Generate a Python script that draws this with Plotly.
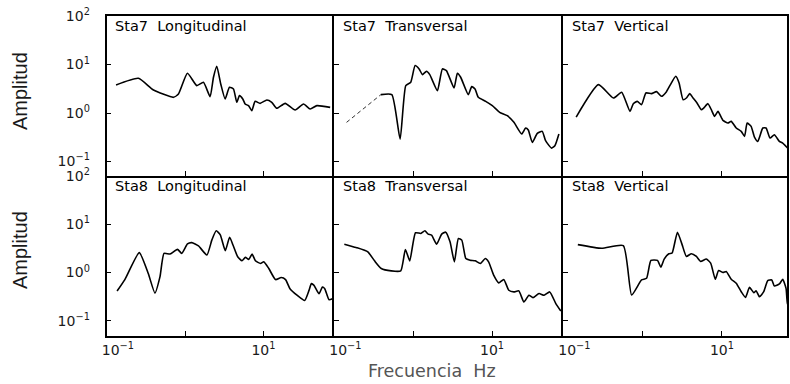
import numpy as np
import plotly.graph_objects as go

# Spectral amplitude curves, stored as log10(frequency in Hz) and log10(amplitude)
sta7_long_logf = [-0.881, -0.596, -0.404, -0.149, -0.085, 0.030, 0.149, 0.234, 0.319, 0.362, 0.404, 0.455,
                  0.511, 0.566, 0.617, 0.660, 0.694, 0.736, 0.766, 0.809, 0.851, 0.894, 0.957, 1.043,
                  1.106, 1.170, 1.277, 1.404, 1.511, 1.596, 1.681, 1.851]
sta7_long_loga = [0.579, 0.717, 0.476, 0.324, 0.393, 0.821, 0.566, 0.634, 0.338, 0.738, 0.966, 0.600,
                  0.290, 0.531, 0.497, 0.221, 0.359, 0.290, 0.186, 0.152, 0.048, 0.241, 0.200, 0.269,
                  0.221, 0.097, 0.200, 0.062, 0.186, 0.083, 0.152, 0.117]

sta7_trans_logf = [-0.844, -0.409, -0.270, -0.165, -0.093, -0.030, 0.025, 0.076, 0.118, 0.169, 0.211, 0.308,
                   0.371, 0.422, 0.519, 0.561, 0.603, 0.700, 0.743, 0.785, 0.827, 0.920, 1.004, 1.097,
                   1.194, 1.278, 1.376, 1.426, 1.460, 1.511, 1.574, 1.637, 1.679, 1.755, 1.797, 1.848]
sta7_trans_loga = [-0.193, 0.379, 0.379, -0.538, 0.566, 0.634, 0.979, 0.910, 0.793, 0.862, 0.793, 0.462,
                   0.910, 0.876, 0.517, 0.821, 0.738, 0.379, 0.545, 0.497, 0.324, 0.241, 0.152, 0.014,
                   -0.055, -0.193, -0.434, -0.310, -0.352, -0.607, -0.421, -0.379, -0.572, -0.724, -0.676, -0.434]

sta7_vert_logf = [-0.837, -0.556, -0.368, -0.264, -0.159, -0.117, -0.067, -0.013, 0.042, 0.113, 0.176, 0.238,
                  0.301, 0.351, 0.418, 0.460, 0.510, 0.552, 0.594, 0.636, 0.686, 0.741, 0.770, 0.824,
                  0.866, 0.908, 0.950, 1.013, 1.075, 1.117, 1.180, 1.243, 1.285, 1.318, 1.368, 1.410,
                  1.452, 1.515, 1.556, 1.607, 1.661, 1.724, 1.766, 1.841]
sta7_vert_loga = [-0.083, 0.586, 0.310, 0.428, 0.034, 0.193, 0.241, 0.172, 0.414, 0.400, 0.441, 0.345,
                  0.441, 0.586, 0.759, 0.621, 0.276, 0.310, 0.400, 0.310, 0.207, 0.069, 0.103, 0.193,
                  0.069, -0.069, 0.034, -0.152, -0.207, -0.172, -0.310, -0.379, -0.483, -0.207, -0.276, -0.497,
                  -0.586, -0.310, -0.310, -0.517, -0.448, -0.586, -0.621, -0.745]

sta8_long_logf = [-0.868, -0.769, -0.585, -0.470, -0.385, -0.321, -0.269, -0.192, -0.098, -0.043, 0.030, 0.085,
                  0.171, 0.278, 0.342, 0.397, 0.449, 0.513, 0.568, 0.611, 0.671, 0.726, 0.769, 0.812,
                  0.855, 0.897, 0.962, 1.004, 1.068, 1.154, 1.226, 1.282, 1.338, 1.432, 1.526, 1.581,
                  1.611, 1.645, 1.709, 1.752, 1.782, 1.838, 1.880]
sta8_long_loga = [-0.382, -0.146, 0.410, -0.021, -0.424, -0.090, 0.396, 0.382, 0.479, 0.396, 0.590, 0.618,
                  0.549, 0.361, 0.674, 0.861, 0.778, 0.451, 0.729, 0.569, 0.326, 0.243, 0.313, 0.271,
                  0.382, 0.243, 0.188, 0.222, 0.083, -0.146, -0.104, -0.146, -0.333, -0.472, -0.576, -0.368,
                  -0.229, -0.264, -0.438, -0.299, -0.333, -0.563, -0.542]

sta8_trans_logf = [-0.872, -0.723, -0.574, -0.489, -0.404, -0.277, -0.157, -0.098, -0.043, 0.030, 0.098, 0.149,
                   0.191, 0.234, 0.298, 0.362, 0.413, 0.468, 0.523, 0.574, 0.617, 0.668, 0.723, 0.787,
                   0.851, 0.915, 0.957, 1.021, 1.085, 1.149, 1.213, 1.277, 1.340, 1.404, 1.468, 1.519,
                   1.596, 1.660, 1.732, 1.809, 1.872]
sta8_trans_loga = [0.586, 0.517, 0.428, 0.241, 0.083, 0.034, 0.034, 0.476, 0.241, 0.821, 0.807, 0.862,
                   0.793, 0.772, 0.586, 0.793, 0.834, 0.634, 0.221, 0.703, 0.669, 0.290, 0.255, 0.241,
                   0.186, 0.290, 0.221, -0.055, -0.214, -0.145, -0.366, -0.400, -0.379, -0.607, -0.469, -0.517,
                   -0.434, -0.469, -0.400, -0.641, -0.793]

sta8_vert_logf = [-0.816, -0.515, -0.243, -0.138, -0.013, 0.050, 0.105, 0.188, 0.230, 0.272, 0.331, 0.372,
                  0.439, 0.498, 0.552, 0.615, 0.678, 0.732, 0.803, 0.858, 0.916, 0.958, 1.013, 1.054,
                  1.117, 1.180, 1.243, 1.297, 1.347, 1.402, 1.431, 1.473, 1.527, 1.577, 1.628, 1.661,
                  1.724, 1.766, 1.808, 1.828, 1.862]
sta8_vert_loga = [0.576, 0.500, 0.556, -0.465, -0.153, -0.118, 0.250, 0.250, 0.111, 0.278, 0.389, 0.403,
                  0.833, 0.576, 0.333, 0.389, 0.333, 0.229, 0.278, 0.194, -0.139, 0.042, 0.000, 0.021,
                  -0.139, -0.222, -0.396, -0.514, -0.306, -0.417, -0.375, -0.500, -0.396, -0.167, -0.153, -0.278,
                  -0.236, -0.139, -0.326, -0.653, -0.694]

panel_titles = ["Sta7  Longitudinal", "Sta7  Transversal", "Sta7  Vertical",
                "Sta8  Longitudinal", "Sta8  Transversal", "Sta8  Vertical"]
panel_data = [(sta7_long_logf, sta7_long_loga), (sta7_trans_logf, sta7_trans_loga), (sta7_vert_logf, sta7_vert_loga),
              (sta8_long_logf, sta8_long_loga), (sta8_trans_logf, sta8_trans_loga), (sta8_vert_logf, sta8_vert_loga)]

y_tickvals = [0.1, 1, 10, 100]
y_ticktext = ["10<sup>\u22121</sup>", "10<sup>0</sup>", "10<sup>1</sup>", "10<sup>2</sup>"]
x_tickvals = [0.1, 1, 10]
x_ticktext = ["\u00a0\u00a0\u00a0\u00a0\u00a010<sup>\u22121</sup>", "", "10<sup>1</sup>"]

W, H = 790, 384
col_px = [(106.5, 334.0), (334.0, 563.0), (563.0, 787.0)]
col_ranges = [[-1.003, 1.90], [-1.003, 1.90], [-1.003, 1.82]]
row_px = [(16.0, 175.5), (175.5, 336.0)]
row_ranges = [[-1.29, 2.003], [-1.31, 2.003]]

tick_font = dict(family="DejaVu Sans", size=14, color="#1a1a1a")
fig = go.Figure()
layout = dict(width=W, height=H, margin=dict(l=0, r=0, t=0, b=0),
              paper_bgcolor="white", plot_bgcolor="white", showlegend=False)
annotations = []

for i, (title, (lf, la)) in enumerate(zip(panel_titles, panel_data)):
    row, col = divmod(i, 3)
    n = i + 1
    xname = "xaxis" if n == 1 else f"xaxis{n}"
    yname = "yaxis" if n == 1 else f"yaxis{n}"
    xref = "x" if n == 1 else f"x{n}"
    yref = "y" if n == 1 else f"y{n}"
    f = np.power(10.0, lf)
    a = np.power(10.0, la)
    line = dict(color="black", width=1.6, shape="spline", smoothing=0.5)
    if i == 1:
        # the low-frequency segment of this trace is drawn faint and broken
        fig.add_trace(go.Scatter(x=f[:2], y=a[:2], mode="lines", xaxis=xref, yaxis=yref,
                                 line=dict(color="#333333", width=1, dash="4px,3px")))
        fig.add_trace(go.Scatter(x=f[1:], y=a[1:], mode="lines", xaxis=xref, yaxis=yref, line=line))
    else:
        fig.add_trace(go.Scatter(x=f, y=a, mode="lines", xaxis=xref, yaxis=yref, line=line))

    x0, x1 = col_px[col]
    y0, y1 = row_px[row]
    # frame: each panel draws its left and bottom edges; outer panels close the box
    layout[xname] = dict(type="log", range=col_ranges[col], domain=[x0 / W, x1 / W], automargin=False,
                         anchor=yref, showline=True, mirror=(row == 0), linecolor="black", linewidth=1.6,
                         showgrid=False, zeroline=False, ticks="inside", ticklen=5, tickwidth=1.3,
                         tickcolor="black", tickvals=x_tickvals, ticktext=x_ticktext,
                         showticklabels=(row == 1), tickfont=tick_font)
    layout[yname] = dict(type="log", range=row_ranges[row], domain=[1 - y1 / H, 1 - y0 / H], automargin=False,
                         anchor=xref, showline=True, mirror=(col == 2), linecolor="black", linewidth=1.6,
                         showgrid=False, zeroline=False, ticks="inside", ticklen=5, tickwidth=1.3,
                         tickcolor="black", tickvals=y_tickvals, ticktext=y_ticktext,
                         showticklabels=(col == 0), tickfont=tick_font, ticklabelstandoff=12)
    title_y = (row_px[row][1] - (26.5 if row == 0 else 186.0)) / (row_px[row][1] - row_px[row][0])
    annotations.append(dict(text=title, xref=f"{xref} domain", yref=f"{yref} domain",
                            x=0.03, y=title_y, xanchor="left", yanchor="middle", showarrow=False,
                            font=dict(family="DejaVu Sans", size=14.5, color="black")))

# axis titles
for yc in (91, 250):
    annotations.append(dict(text="Amplitud", xref="paper", yref="paper", x=20 / W, y=1 - yc / H,
                            textangle=-90, showarrow=False, xanchor="center", yanchor="middle",
                            font=dict(family="Liberation Sans", size=20, color="#1a1a1a")))
annotations.append(dict(text="Frecuencia  Hz", xref="paper", yref="paper", x=432 / W, y=1 - 371 / H,
                        showarrow=False, xanchor="center", yanchor="middle",
                        font=dict(family="DejaVu Sans", size=17.5, color="#555555")))

layout["annotations"] = annotations
fig.update_layout(**layout)
fig.write_html("out.html")
